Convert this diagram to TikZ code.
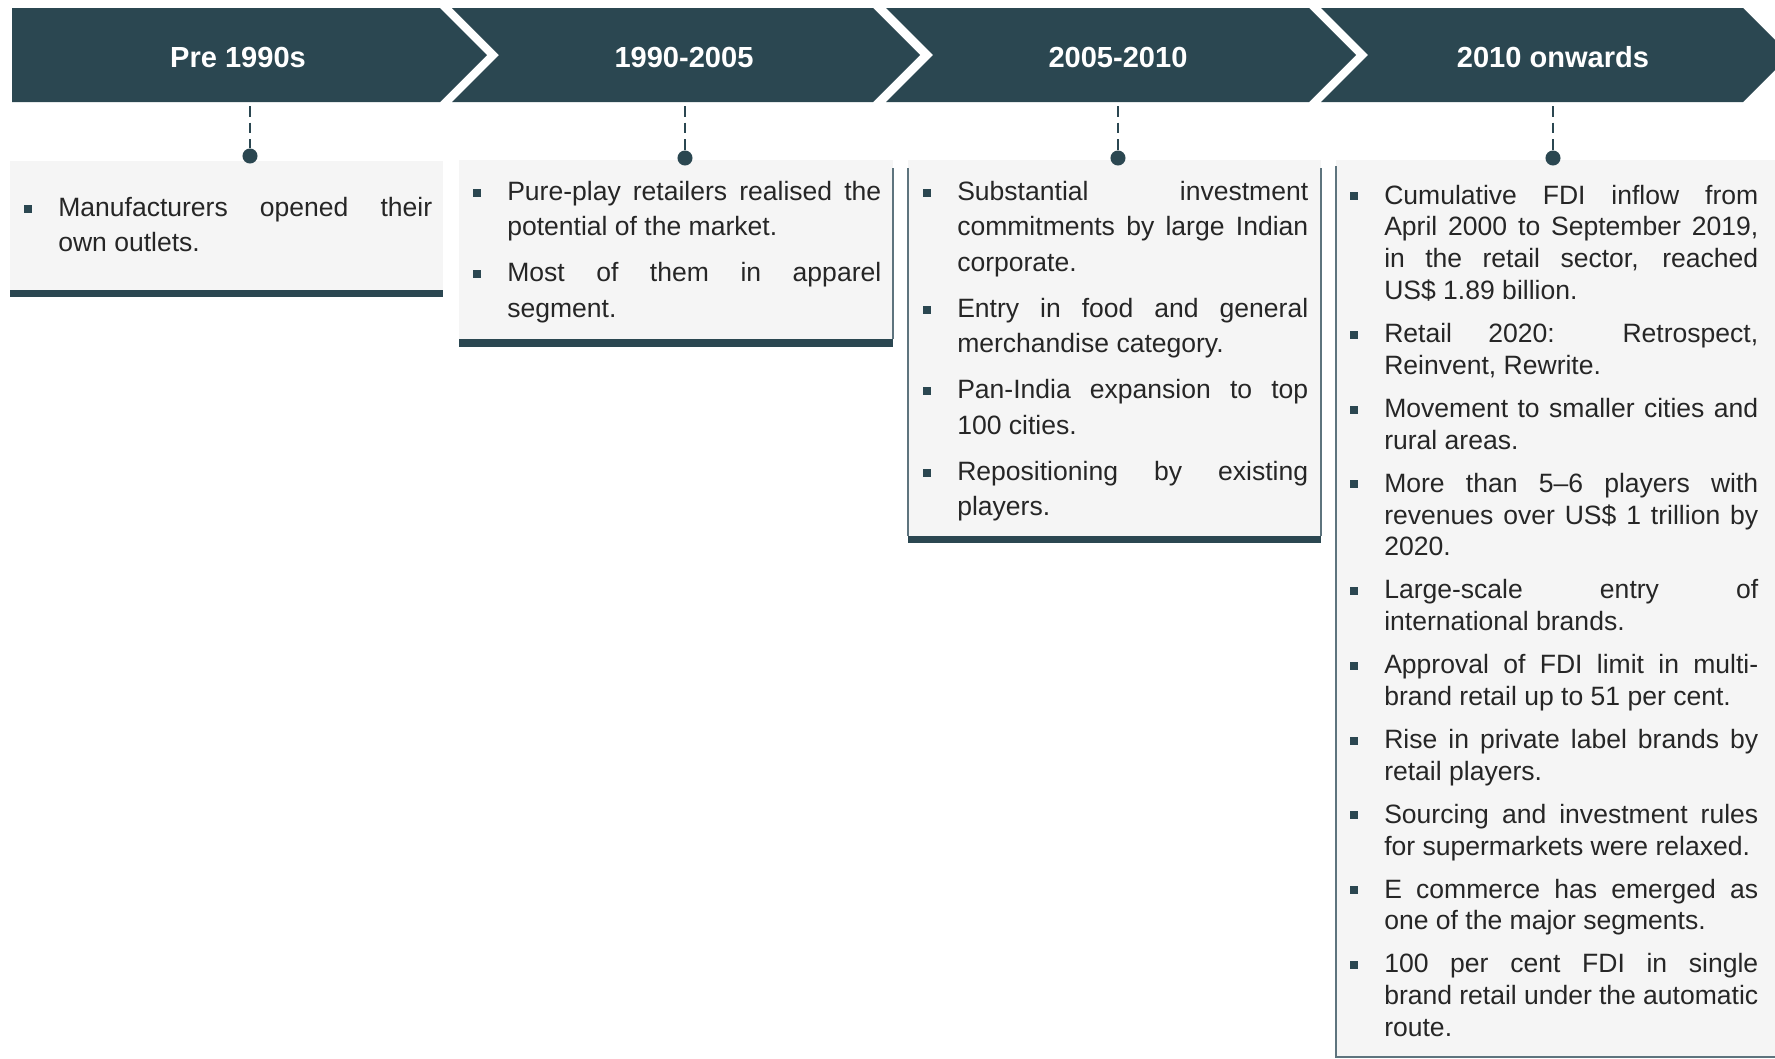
\documentclass[tikz,border=0pt]{standalone}
\usepackage{fontspec}
\setmainfont{Liberation Sans}
\definecolor{banner}{HTML}{2B4751}
\definecolor{boxfill}{HTML}{F5F5F5}
\definecolor{edgeline}{HTML}{5E747E}
\definecolor{ink}{HTML}{262626}
\newcommand\headfont{\fontsize{21.8pt}{26pt}\selectfont\bfseries}
\newcommand\brk{\penalty-10000 }
\newcommand\bpt[1]{\par\noindent\llap{\textcolor{banner}{\rule[2.8pt]{6pt}{6pt}}\hspace{19.7pt}}#1\par}
\newcommand\igap{\vskip 7.9pt\relax}
\newcommand\cardtext[3]{\vtop{\hsize=#1\relax\fontsize{19.9pt}{#2}\selectfont
  \parindent=0pt\parskip=0pt\leftskip=0pt\rightskip=0pt\parfillskip=0pt plus 1fil
  \tolerance=10000\hbadness=10000\hyphenpenalty=10000\exhyphenpenalty=10000
  \emergencystretch=0pt #3}}
\tikzset{
  seg/.style={fill=banner},
  head/.style={text=white, font=\headfont, anchor=base, inner sep=0pt},
  card/.style={fill=boxfill},
  cardbar/.style={fill=banner},
  cardedge/.style={draw=edgeline, line width=0.9pt},
  stem/.style={draw=banner, line width=2.2pt, dash pattern=on 8pt off 4.5pt},
  dot/.style={circle, fill=banner, inner sep=0pt, minimum size=11.3pt},
  body/.style={anchor=base west, inner sep=0pt, text=ink},
}
\begin{document}
\begin{tikzpicture}[x=0.75pt,y=-0.75pt]
\useasboundingbox (0,0) rectangle (1775,1058);
% banner chevrons
\fill[seg] (12,8) -- (440,8) -- (487,55) -- (440,102) -- (12,102) -- cycle;
\fill[seg] (452,8) -- (873,8) -- (920,55) -- (873,102) -- (452,102) -- (499,55) -- cycle;
\fill[seg] (886,8) -- (1309,8) -- (1356,55) -- (1309,102) -- (886,102) -- (933,55) -- cycle;
\fill[seg] (1321,8) -- (1743,8) -- (1790,55) -- (1743,102) -- (1321,102) -- (1368,55) -- cycle;
\node[head] (h1) at (238,67) {Pre 1990s};
\node[head] (h2) at (684,67) {1990-2005};
\node[head] (h3) at (1118,67) {2005-2010};
\node[head] (h4) at (1553,67) {2010 onwards};
% cards
\fill[card] (10,161) rectangle (443,290);
\fill[cardbar] (10,290) rectangle (443,297);
\fill[card] (459,160) rectangle (893,339);
\fill[cardbar] (459,339) rectangle (893,347);
\draw[cardedge] (893,168) -- (893,339);
\fill[card] (908,160) rectangle (1321,536);
\fill[cardbar] (908,536) rectangle (1321,543);
\draw[cardedge] (908,168) -- (908,536);
\draw[cardedge] (1321,168) -- (1321,536);
\fill[card] (1336,160) rectangle (1780,1057);
\draw[cardedge] (1336,166) -- (1336,1057) -- (1780,1057);
% connectors
\coordinate (c1) at (250,106);
\coordinate (c2) at (685,106);
\coordinate (c3) at (1118,106);
\coordinate (c4) at (1553,106);
\node[dot] (d1) at (250,156) {};
\node[dot] (d2) at (685,158) {};
\node[dot] (d3) at (1118,158) {};
\node[dot] (d4) at (1553,158) {};
\draw[stem] (c1) -- (d1);
\draw[stem] (c2) -- (d2);
\draw[stem] (c3) -- (d3);
\draw[stem] (c4) -- (d4);
% texts
\node[body] (t1) at (58,216.5) {\cardtext{280.5pt}{26.6pt}{%
\bpt{Manufacturers opened their\brk own outlets.}}};
\node[body] (t2) at (507,200.5) {\cardtext{280.5pt}{26.6pt}{%
\bpt{Pure-play retailers realised the\brk potential of the market.}\igap
\bpt{Most of them in apparel\brk segment.}}};
\node[body] (t3) at (957,200.5) {\cardtext{263.2pt}{26.6pt}{%
\bpt{Substantial investment\brk commitments by large Indian\brk corporate.}\igap
\bpt{Entry in food and general\brk merchandise category.}\igap
\bpt{Pan-India expansion to top\brk 100 cities.}\igap
\bpt{Repositioning by existing\brk players.}}};
\node[body] (t4) at (1384,204) {\cardtext{280.5pt}{23.9pt}{%
\bpt{Cumulative FDI inflow from\brk April 2000 to September 2019,\brk in the retail sector, reached\brk US\$ 1.89 billion.}\vskip 8.3pt
\bpt{Retail 2020: Retrospect,\brk Reinvent, Rewrite.}\vskip 8.3pt
\bpt{Movement to smaller cities and\brk rural areas.}\vskip 8.3pt
\bpt{More than 5–6 players with\brk revenues over US\$ 1 trillion by\brk 2020.}\vskip 8.3pt
\bpt{Large-scale entry of\brk international brands.}\vskip 8.3pt
\bpt{Approval of FDI limit in multi-\brk brand retail up to 51 per cent.}\vskip 8.3pt
\bpt{Rise in private label brands by\brk retail players.}\vskip 8.3pt
\bpt{Sourcing and investment rules\brk for supermarkets were relaxed.}\vskip 8.3pt
\bpt{E commerce has emerged as\brk one of the major segments.}\vskip 8.3pt
\bpt{100 per cent FDI in single\brk brand retail under the automatic\brk route.}}};
\end{tikzpicture}
\end{document}
